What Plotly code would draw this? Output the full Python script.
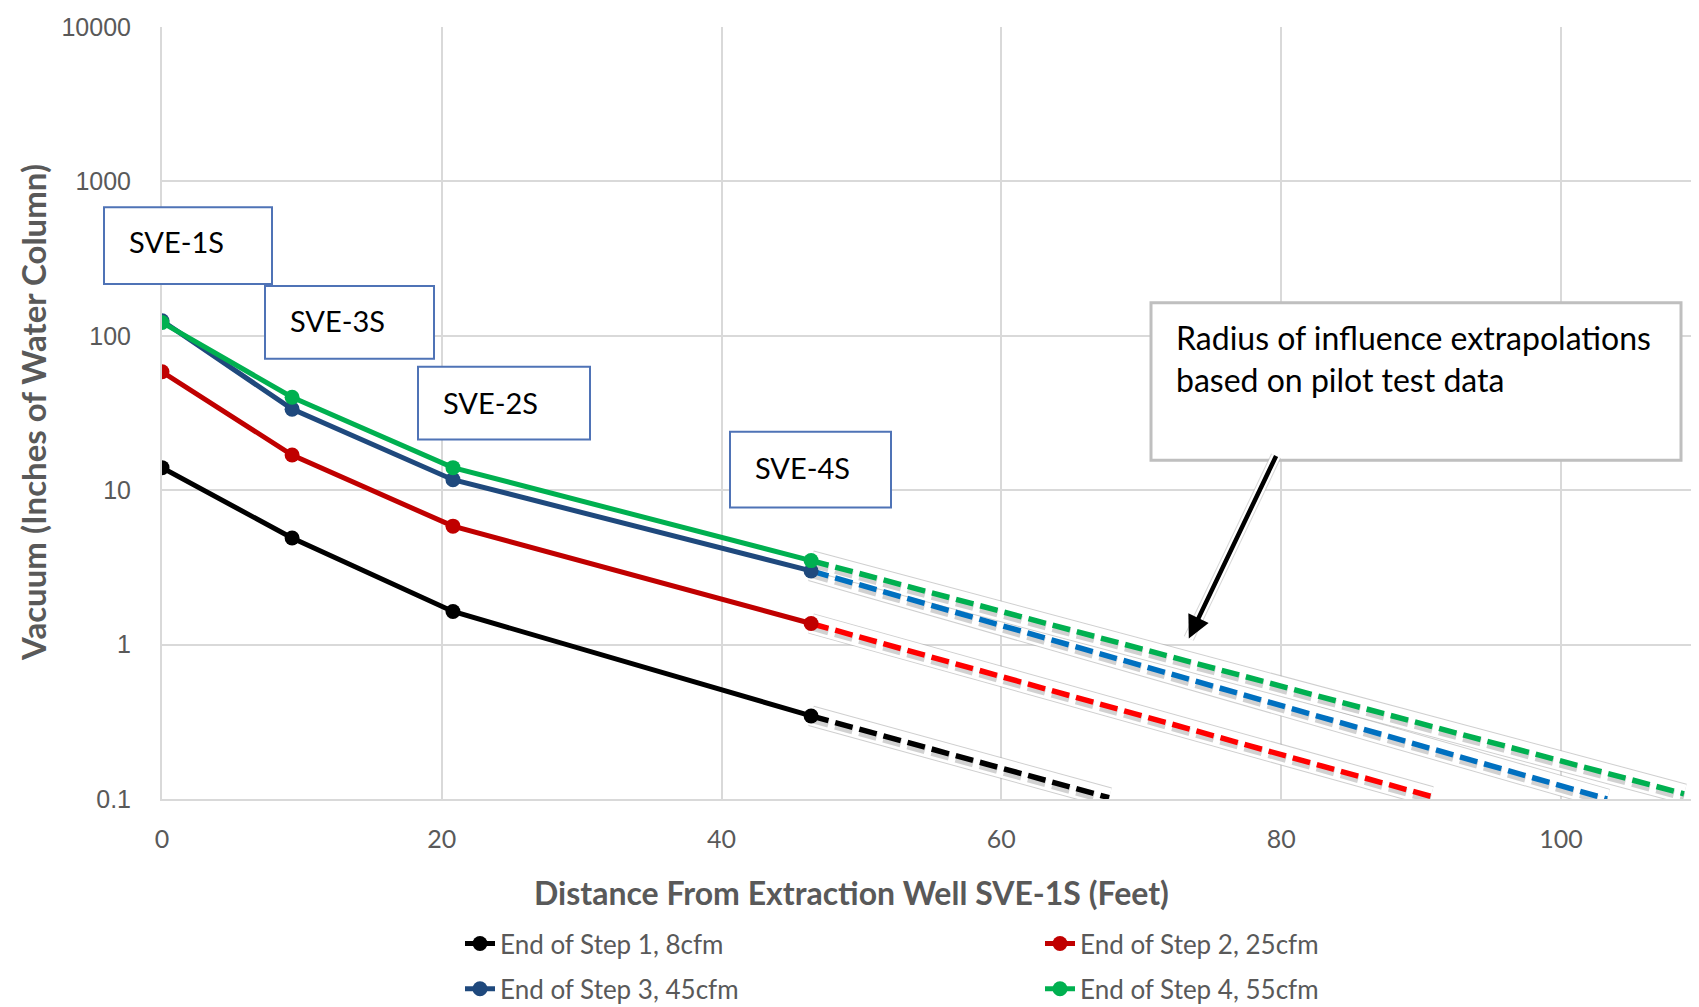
import plotly.graph_objects as go

# ---------------- data ----------------
distance = [0, 9.3, 20.8, 46.4]
step1 = [14.0, 4.9, 1.64, 0.345]
step2 = [58.5, 16.9, 5.85, 1.37]
step3 = [125, 33.5, 11.7, 3.0]
step4 = [122, 40, 14.0, 3.5]

ext_x1 = [46.4, 67.7]
ext_y1 = [0.345, 0.102]
ext_x2 = [46.4, 90.7]
ext_y2 = [1.37, 0.104]
ext_x3 = [46.4, 103.3]
ext_y3 = [3.0, 0.100]
ext_x4 = [46.4, 108.8]
ext_y4 = [3.5, 0.108]

names = ["End of Step 1, 8cfm", "End of Step 2, 25cfm",
         "End of Step 3, 45cfm", "End of Step 4, 55cfm"]
x_ticks = [0, 20, 40, 60, 80, 100]
y_ticks = [0.1, 1, 10, 100, 1000, 10000]
y_ticklabels = ["0.1", "1", "10", "100", "1000", "10000"]
well_labels = ["SVE-1S", "SVE-3S", "SVE-2S", "SVE-4S"]

# ---------------- layout helpers ----------------
W, H = 1699, 1007
L, R, T, B = 154, 1697, 19, 803
DECADE_PX = (B - T) / 5.0


def px(x):
    return (x - L) / (R - L)


def py(y):
    return (B - y) / (B - T)


solid_colors = ["#000000", "#C00000", "#1F497D", "#00B050"]
dash_colors = ["#000000", "#FF0000", "#0070C0", "#00B050"]
series = [step1, step2, step3, step4]
exts = [(ext_x1, ext_y1), (ext_x2, ext_y2), (ext_x3, ext_y3), (ext_x4, ext_y4)]

fig = go.Figure()

shadow_factor = 10 ** (-3.0 / DECADE_PX)  # ~3 px drop shadow

# extrapolation lines with halo and soft shadow
for (ex, ey), c in zip(exts, dash_colors):
    fig.add_trace(go.Scatter(x=ex, y=ey, mode="lines", showlegend=False,
                             line=dict(color="rgba(175,175,175,0.6)", width=21),
                             hoverinfo="skip"))
    fig.add_trace(go.Scatter(x=ex, y=ey, mode="lines", showlegend=False,
                             line=dict(color="white", width=19),
                             hoverinfo="skip"))
for (ex, ey), c in zip(exts, dash_colors):
    fig.add_trace(go.Scatter(x=ex, y=[v * shadow_factor for v in ey], mode="lines",
                             showlegend=False, hoverinfo="skip",
                             line=dict(color="rgba(0,0,0,0.18)", width=8, dash="18px,7px")))
    fig.add_trace(go.Scatter(x=ex, y=ey, mode="lines", showlegend=False,
                             line=dict(color=c, width=5.5, dash="18px,7px")))

legend_ids = ["legend", "legend", "legend2", "legend2"]
for ys, c, n, lg in zip(series, solid_colors, names, legend_ids):
    fig.add_trace(go.Scatter(x=distance, y=ys, mode="lines+markers", name=n,
                             line=dict(color=c, width=5),
                             marker=dict(color=c, size=15),
                             legend=lg))

shapes = []
annotations = []

# well label boxes: (left, top, right, bottom, text_left, text_center_y)
boxes = [(96, 202, 264, 280, 119, 237),
         (257, 282, 426, 356, 280, 317),
         (410, 364, 582, 438, 433, 400),
         (722, 430, 883, 507, 745, 466)]
for (x0, y0, x1, y1, tx, ty), lab in zip(boxes, well_labels):
    shapes.append(dict(type="rect", xref="paper", yref="paper",
                       x0=px(x0), x1=px(x1), y0=py(y1), y1=py(y0),
                       line=dict(color="#4F73B6", width=2), fillcolor="white",
                       layer="above"))
    annotations.append(dict(xref="paper", yref="paper", x=px(tx), y=py(ty),
                            xanchor="left", yanchor="middle", showarrow=False,
                            text=lab, font=dict(family="Lato", size=29, color="#000000")))

# big note box
shapes.append(dict(type="rect", xref="paper", yref="paper",
                   x0=px(1143), x1=px(1673), y0=py(459), y1=py(299),
                   line=dict(color="#BFBFBF", width=3), fillcolor="white",
                   layer="above"))
annotations.append(dict(xref="paper", yref="paper", x=px(1166), y=py(356),
                        xanchor="left", yanchor="middle", showarrow=False, align="left",
                        text="Radius of influence extrapolations<br>based on pilot test data",
                        font=dict(family="Lato", size=32, color="#000000")))

# arrow (halo + arrow); y given in log10 units for log axis
tip_x, tip_logy = 73.4, 0.04
annotations.append(dict(x=tip_x, y=tip_logy, xref="x", yref="y", showarrow=True,
                        ax=88, ay=-184, axref="pixel", ayref="pixel",
                        arrowcolor="rgba(185,185,185,0.55)", arrowwidth=11,
                        arrowhead=0, text=""))
annotations.append(dict(x=tip_x, y=tip_logy, xref="x", yref="y", showarrow=True,
                        ax=88, ay=-184, axref="pixel", ayref="pixel",
                        arrowcolor="white", arrowwidth=9,
                        arrowhead=0, text=""))
annotations.append(dict(x=tip_x, y=tip_logy, xref="x", yref="y", showarrow=True,
                        ax=88, ay=-184, axref="pixel", ayref="pixel",
                        arrowcolor="#000000", arrowwidth=4.5,
                        arrowhead=2, arrowsize=1.0, text=""))

# axis titles
annotations.append(dict(xref="paper", yref="paper", x=px(25), y=py(411),
                        xanchor="center", yanchor="middle",
                        textangle=-90, showarrow=False,
                        text="<b>Vacuum (Inches of Water Column)</b>",
                        font=dict(family="Lato", size=33, color="#595959")))
annotations.append(dict(xref="paper", yref="paper", x=px(843), y=py(898),
                        xanchor="center", yanchor="middle",
                        showarrow=False,
                        text="<b>Distance From Extraction Well SVE-1S (Feet)</b>",
                        font=dict(family="Lato", size=32, color="#595959")))

fig.update_layout(
    width=W, height=H,
    margin=dict(l=L, r=W - R, t=T, b=H - B),
    plot_bgcolor="white", paper_bgcolor="white",
    shapes=shapes, annotations=annotations,
    xaxis=dict(range=[0, 110.3], tickvals=x_ticks, showgrid=True,
               gridcolor="#D9D9D9", gridwidth=2, zeroline=False,
               showline=True, linecolor="#D9D9D9", linewidth=2,
               ticks="", ticklabelstandoff=17,
               tickfont=dict(family="Lato", size=25, color="#595959")),
    yaxis=dict(type="log", range=[-1, 4], tickvals=y_ticks, ticktext=y_ticklabels,
               showgrid=True, gridcolor="#D9D9D9", gridwidth=2, zeroline=False,
               showline=True, linecolor="#D9D9D9", linewidth=2, mirror=False,
               ticks="", ticklabelstandoff=24,
               tickfont=dict(family="Liberation Sans", size=25, color="#595959")),
    legend=dict(orientation="h", x=px(452), y=py(926), xanchor="left", yanchor="top",
                entrywidth=535, entrywidthmode="pixels",
                font=dict(family="Lato", size=26, color="#595959"),
                bgcolor="rgba(0,0,0,0)"),
    legend2=dict(orientation="h", x=px(452), y=py(972), xanchor="left", yanchor="top",
                 entrywidth=535, entrywidthmode="pixels",
                 font=dict(family="Lato", size=26, color="#595959"),
                 bgcolor="rgba(0,0,0,0)"),
)

fig.write_html("out.html")
